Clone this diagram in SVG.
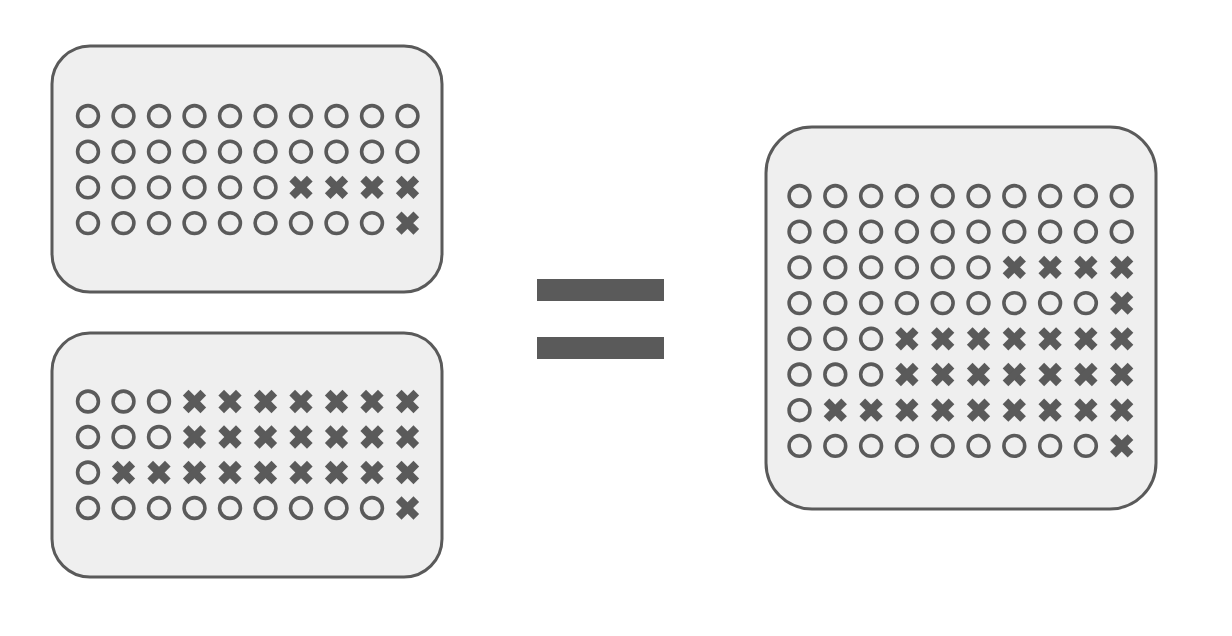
<svg xmlns="http://www.w3.org/2000/svg" xmlns:xlink="http://www.w3.org/1999/xlink" width="1232" height="636" viewBox="0 0 1232 636">
<style>
.box{fill:#efefef;stroke:#5a5a5a;stroke-width:3}
.o{fill:none;stroke:#5a5a5a;stroke-width:3.6}
.x{stroke:#5a5a5a;stroke-width:8;stroke-linecap:butt}
.bar{fill:#5a5a5a}
</style>
<defs>
<circle id="O" class="o" cx="0" cy="0" r="10.4"/>
<g id="X"><line class="x" x1="-8.8" y1="-8.8" x2="8.8" y2="8.8"/><line class="x" x1="-8.8" y1="8.8" x2="8.8" y2="-8.8"/></g>
</defs>
<rect width="1232" height="636" fill="#ffffff"/>
<g id="box-top">
<rect class="box" x="52" y="46" width="390" height="246" rx="38"/>
<g transform="translate(88,116)">
<use xlink:href="#O" x="0" y="0"/><use xlink:href="#O" x="35.5" y="0"/><use xlink:href="#O" x="71" y="0"/><use xlink:href="#O" x="106.5" y="0"/><use xlink:href="#O" x="142" y="0"/><use xlink:href="#O" x="177.5" y="0"/><use xlink:href="#O" x="213" y="0"/><use xlink:href="#O" x="248.5" y="0"/><use xlink:href="#O" x="284" y="0"/><use xlink:href="#O" x="319.5" y="0"/>
<use xlink:href="#O" x="0" y="35.7"/><use xlink:href="#O" x="35.5" y="35.7"/><use xlink:href="#O" x="71" y="35.7"/><use xlink:href="#O" x="106.5" y="35.7"/><use xlink:href="#O" x="142" y="35.7"/><use xlink:href="#O" x="177.5" y="35.7"/><use xlink:href="#O" x="213" y="35.7"/><use xlink:href="#O" x="248.5" y="35.7"/><use xlink:href="#O" x="284" y="35.7"/><use xlink:href="#O" x="319.5" y="35.7"/>
<use xlink:href="#O" x="0" y="71.4"/><use xlink:href="#O" x="35.5" y="71.4"/><use xlink:href="#O" x="71" y="71.4"/><use xlink:href="#O" x="106.5" y="71.4"/><use xlink:href="#O" x="142" y="71.4"/><use xlink:href="#O" x="177.5" y="71.4"/><use xlink:href="#X" x="213" y="71.4"/><use xlink:href="#X" x="248.5" y="71.4"/><use xlink:href="#X" x="284" y="71.4"/><use xlink:href="#X" x="319.5" y="71.4"/>
<use xlink:href="#O" x="0" y="107.1"/><use xlink:href="#O" x="35.5" y="107.1"/><use xlink:href="#O" x="71" y="107.1"/><use xlink:href="#O" x="106.5" y="107.1"/><use xlink:href="#O" x="142" y="107.1"/><use xlink:href="#O" x="177.5" y="107.1"/><use xlink:href="#O" x="213" y="107.1"/><use xlink:href="#O" x="248.5" y="107.1"/><use xlink:href="#O" x="284" y="107.1"/><use xlink:href="#X" x="319.5" y="107.1"/>
</g>
</g>
<g id="box-bottom">
<rect class="box" x="52" y="333" width="390" height="244" rx="38"/>
<g transform="translate(88,401.5)">
<use xlink:href="#O" x="0" y="0"/><use xlink:href="#O" x="35.5" y="0"/><use xlink:href="#O" x="71" y="0"/><use xlink:href="#X" x="106.5" y="0"/><use xlink:href="#X" x="142" y="0"/><use xlink:href="#X" x="177.5" y="0"/><use xlink:href="#X" x="213" y="0"/><use xlink:href="#X" x="248.5" y="0"/><use xlink:href="#X" x="284" y="0"/><use xlink:href="#X" x="319.5" y="0"/>
<use xlink:href="#O" x="0" y="35.5"/><use xlink:href="#O" x="35.5" y="35.5"/><use xlink:href="#O" x="71" y="35.5"/><use xlink:href="#X" x="106.5" y="35.5"/><use xlink:href="#X" x="142" y="35.5"/><use xlink:href="#X" x="177.5" y="35.5"/><use xlink:href="#X" x="213" y="35.5"/><use xlink:href="#X" x="248.5" y="35.5"/><use xlink:href="#X" x="284" y="35.5"/><use xlink:href="#X" x="319.5" y="35.5"/>
<use xlink:href="#O" x="0" y="71"/><use xlink:href="#X" x="35.5" y="71"/><use xlink:href="#X" x="71" y="71"/><use xlink:href="#X" x="106.5" y="71"/><use xlink:href="#X" x="142" y="71"/><use xlink:href="#X" x="177.5" y="71"/><use xlink:href="#X" x="213" y="71"/><use xlink:href="#X" x="248.5" y="71"/><use xlink:href="#X" x="284" y="71"/><use xlink:href="#X" x="319.5" y="71"/>
<use xlink:href="#O" x="0" y="106.5"/><use xlink:href="#O" x="35.5" y="106.5"/><use xlink:href="#O" x="71" y="106.5"/><use xlink:href="#O" x="106.5" y="106.5"/><use xlink:href="#O" x="142" y="106.5"/><use xlink:href="#O" x="177.5" y="106.5"/><use xlink:href="#O" x="213" y="106.5"/><use xlink:href="#O" x="248.5" y="106.5"/><use xlink:href="#O" x="284" y="106.5"/><use xlink:href="#X" x="319.5" y="106.5"/>
</g>
</g>
<g id="equals">
<rect class="bar" x="537" y="279" width="127" height="22"/>
<rect class="bar" x="537" y="337" width="127" height="22"/>
</g>
<g id="box-result">
<rect class="box" x="766" y="127" width="390" height="382" rx="46"/>
<g transform="translate(799.5,196)">
<use xlink:href="#O" x="0" y="0"/><use xlink:href="#O" x="35.8" y="0"/><use xlink:href="#O" x="71.6" y="0"/><use xlink:href="#O" x="107.4" y="0"/><use xlink:href="#O" x="143.2" y="0"/><use xlink:href="#O" x="179" y="0"/><use xlink:href="#O" x="214.8" y="0"/><use xlink:href="#O" x="250.6" y="0"/><use xlink:href="#O" x="286.4" y="0"/><use xlink:href="#O" x="322.2" y="0"/>
<use xlink:href="#O" x="0" y="35.7"/><use xlink:href="#O" x="35.8" y="35.7"/><use xlink:href="#O" x="71.6" y="35.7"/><use xlink:href="#O" x="107.4" y="35.7"/><use xlink:href="#O" x="143.2" y="35.7"/><use xlink:href="#O" x="179" y="35.7"/><use xlink:href="#O" x="214.8" y="35.7"/><use xlink:href="#O" x="250.6" y="35.7"/><use xlink:href="#O" x="286.4" y="35.7"/><use xlink:href="#O" x="322.2" y="35.7"/>
<use xlink:href="#O" x="0" y="71.4"/><use xlink:href="#O" x="35.8" y="71.4"/><use xlink:href="#O" x="71.6" y="71.4"/><use xlink:href="#O" x="107.4" y="71.4"/><use xlink:href="#O" x="143.2" y="71.4"/><use xlink:href="#O" x="179" y="71.4"/><use xlink:href="#X" x="214.8" y="71.4"/><use xlink:href="#X" x="250.6" y="71.4"/><use xlink:href="#X" x="286.4" y="71.4"/><use xlink:href="#X" x="322.2" y="71.4"/>
<use xlink:href="#O" x="0" y="107.1"/><use xlink:href="#O" x="35.8" y="107.1"/><use xlink:href="#O" x="71.6" y="107.1"/><use xlink:href="#O" x="107.4" y="107.1"/><use xlink:href="#O" x="143.2" y="107.1"/><use xlink:href="#O" x="179" y="107.1"/><use xlink:href="#O" x="214.8" y="107.1"/><use xlink:href="#O" x="250.6" y="107.1"/><use xlink:href="#O" x="286.4" y="107.1"/><use xlink:href="#X" x="322.2" y="107.1"/>
<use xlink:href="#O" x="0" y="142.8"/><use xlink:href="#O" x="35.8" y="142.8"/><use xlink:href="#O" x="71.6" y="142.8"/><use xlink:href="#X" x="107.4" y="142.8"/><use xlink:href="#X" x="143.2" y="142.8"/><use xlink:href="#X" x="179" y="142.8"/><use xlink:href="#X" x="214.8" y="142.8"/><use xlink:href="#X" x="250.6" y="142.8"/><use xlink:href="#X" x="286.4" y="142.8"/><use xlink:href="#X" x="322.2" y="142.8"/>
<use xlink:href="#O" x="0" y="178.5"/><use xlink:href="#O" x="35.8" y="178.5"/><use xlink:href="#O" x="71.6" y="178.5"/><use xlink:href="#X" x="107.4" y="178.5"/><use xlink:href="#X" x="143.2" y="178.5"/><use xlink:href="#X" x="179" y="178.5"/><use xlink:href="#X" x="214.8" y="178.5"/><use xlink:href="#X" x="250.6" y="178.5"/><use xlink:href="#X" x="286.4" y="178.5"/><use xlink:href="#X" x="322.2" y="178.5"/>
<use xlink:href="#O" x="0" y="214.2"/><use xlink:href="#X" x="35.8" y="214.2"/><use xlink:href="#X" x="71.6" y="214.2"/><use xlink:href="#X" x="107.4" y="214.2"/><use xlink:href="#X" x="143.2" y="214.2"/><use xlink:href="#X" x="179" y="214.2"/><use xlink:href="#X" x="214.8" y="214.2"/><use xlink:href="#X" x="250.6" y="214.2"/><use xlink:href="#X" x="286.4" y="214.2"/><use xlink:href="#X" x="322.2" y="214.2"/>
<use xlink:href="#O" x="0" y="249.9"/><use xlink:href="#O" x="35.8" y="249.9"/><use xlink:href="#O" x="71.6" y="249.9"/><use xlink:href="#O" x="107.4" y="249.9"/><use xlink:href="#O" x="143.2" y="249.9"/><use xlink:href="#O" x="179" y="249.9"/><use xlink:href="#O" x="214.8" y="249.9"/><use xlink:href="#O" x="250.6" y="249.9"/><use xlink:href="#O" x="286.4" y="249.9"/><use xlink:href="#X" x="322.2" y="249.9"/>
</g>
</g>
</svg>
